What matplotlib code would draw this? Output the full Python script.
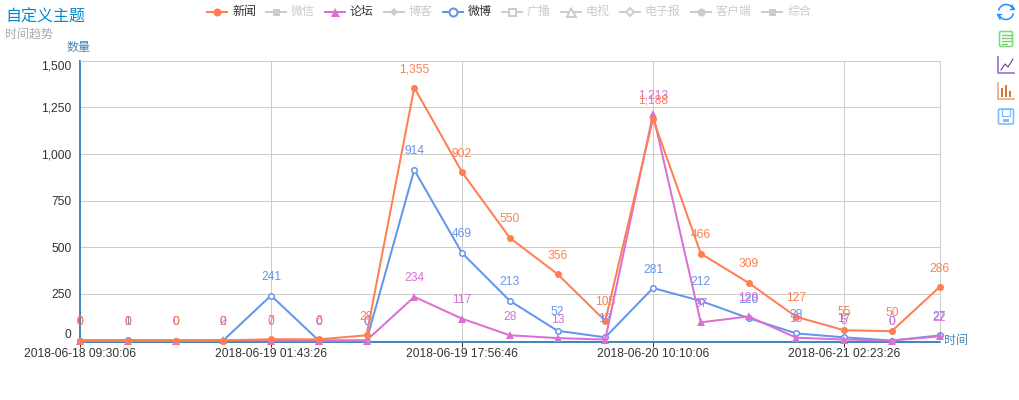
import numpy as np
import matplotlib
matplotlib.use("Agg")
import matplotlib.pyplot as plt
from matplotlib.patches import Rectangle, FancyBboxPatch, Arc

plt.rcParams["font.family"] = ["Liberation Sans", "Noto Sans CJK SC", "DejaVu Sans"]

# data
times = ["2018-06-18 09:30:06", "", "", "", "2018-06-19 01:43:26", "", "", "",
         "2018-06-19 17:56:46", "", "", "", "2018-06-20 10:10:06", "", "", "",
         "2018-06-21 02:23:26", "", ""]
news = [0, 0, 0, 0, 7, 6, 28, 1355, 902, 550, 356, 105, 1188, 466, 309, 127, 55, 50, 286]
forum = [0, 0, 0, 2, 0, 0, 0, 234, 117, 28, 13, 5, 1213, 97, 129, 15, 5, 0, 22]
blog = [0, 1, 0, 0, 241, 0, 0, 914, 469, 213, 52, 17, 281, 212, 120, 38, 17, 0, 27]
y_ticks = [0, 250, 500, 750, 1000, 1250, 1500]

legend_names = ["新闻", "微信", "论坛", "博客", "微博", "广播", "电视", "电子报", "客户端", "综合"]
legend_x = [207, 266, 325, 384, 443, 502, 561, 620, 691, 762]
legend_markers = ["o", "s", "^", "D", "o", "s", "^", "D", "o", "s"]
legend_on = {"新闻": "#ff7f50", "论坛": "#da70d6", "微博": "#6495ed"}

W, H = 1019, 400
PX = 72 / 100  # px to pt
AXIS = "#4488bb"
GRID = "#cccccc"

fig = plt.figure(figsize=(W / 100, H / 100), dpi=100)
ax = fig.add_axes([80 / W, (H - 340.5) / H, 859.5 / W, 280 / H])
# has to come before the ticks are set, it resets them
ax.spines["bottom"].set_position(("outward", 1))
x = np.arange(len(news))

ax.plot(x, blog, color="#6495ed", lw=2 * PX, marker="o", ms=5.5 * PX, mfc="white", mew=1.5 * PX, zorder=3, clip_on=False)
ax.plot(x, forum, color="#da70d6", lw=2 * PX, marker="^", ms=8 * PX, mew=0, zorder=4, clip_on=False)
ax.plot(x, news, color="#ff7f50", lw=2 * PX, marker="o", ms=7 * PX, mew=0, zorder=5, clip_on=False)

for vals, col in [(blog, "#6495ed"), (forum, "#da70d6"), (news, "#ff7f50")]:
    for i, v in zip(x, vals):
        ax.annotate(f"{v:,}", (i, v), xytext=(0, 9), textcoords="offset points", ha="center",
                    va="bottom", fontsize=12 * PX, color=col, zorder=7, annotation_clip=False)

ax.set_xlim(0, len(news) - 1)
ax.set_ylim(0, 1500)
tick_pos = [i for i, t in enumerate(times) if t]
ax.set_xticks(tick_pos)
ax.set_xticklabels([times[i] for i in tick_pos], fontsize=12 * PX, color="#333333")
ax.set_yticks(y_ticks)
ax.set_yticklabels([f"{v:,}" for v in y_ticks], fontsize=12 * PX, color="#333333")
ax.get_yticklabels()[0].set_va("bottom")
ax.get_yticklabels()[-1].set_va("top")
ax.tick_params(axis="x", length=5 * PX, width=PX, color="#333333", pad=1)
ax.tick_params(axis="y", length=0, pad=6)
ax.grid(True, color=GRID, lw=PX, zorder=0)
ax.set_axisbelow(True)
for s in ["top", "right"]:
    ax.spines[s].set_color(GRID)
    ax.spines[s].set_linewidth(PX)
for s in ["left", "bottom"]:
    ax.spines[s].set_color(AXIS)
    ax.spines[s].set_linewidth(2 * PX)
    ax.spines[s].set_zorder(2)

# overlay in pixel coordinates for title, legend, toolbox
ov = fig.add_axes([0, 0, 1, 1], zorder=10)
ov.set_xlim(0, W)
ov.set_ylim(H, 0)
ov.axis("off")
ov.patch.set_alpha(0)

ov.text(5, 17, "自定义主题", fontsize=16 * PX, color="#008acd", va="center", ha="left")
ov.text(5, 35, "时间趋势", fontsize=12 * PX, color="#aaaaaa", va="center", ha="left")
ov.text(67, 48, "数量", fontsize=12 * PX, color=AXIS, va="center", ha="left")
ov.text(944, 341, "时间", fontsize=12 * PX, color=AXIS, va="center", ha="left")

for name, lx, m in zip(legend_names, legend_x, legend_markers):
    col = legend_on.get(name, GRID)
    txt = "#333333" if name in legend_on else GRID
    ov.plot([lx, lx + 20], [11.5, 11.5], color=col, lw=2 * PX)
    hollow = name in ["微博", "广播", "电视", "电子报"]
    size = {"o": 8, "s": 7, "^": 9, "D": 5.5}[m] * PX
    ov.plot([lx + 10], [11.5], marker=m, ms=size, color=col, mfc="white" if hollow else col,
            mew=2 * PX if hollow else 0)
    ov.text(lx + 25, 11.5, name, fontsize=12 * PX, color=txt, va="center", ha="left")

# toolbox icons
blue = "#1e90ff"
ov.add_patch(Arc((1006, 12), 15, 15, theta1=190, theta2=340, color=blue, lw=1.1))
ov.add_patch(Arc((1006, 12), 15, 15, theta1=10, theta2=160, color=blue, lw=1.1))
ov.plot([1012, 1014.5, 1010.5], [5, 9.5, 9.5], color=blue, lw=1)
ov.plot([1000, 997.5, 1001.5], [19, 14.5, 14.5], color=blue, lw=1)

ov.add_patch(FancyBboxPatch((999.5, 31.5), 13, 15, boxstyle="round,pad=0,rounding_size=1.5",
                            fc="none", ec="#7fdc7f", lw=1.2))
for ly, lx2 in zip([35, 38, 41, 44], [1011, 1011, 1011, 1007]):
    ov.plot([1002, lx2], [ly, ly], color="#7fc97f", lw=1)

purple = "#9f6fc4"
ov.plot([998, 998, 1014], [57, 73, 73], color=purple, lw=1.2)
ov.plot([1001, 1005, 1008, 1013], [70, 64, 67, 59], color="#6a3d9a", lw=0.8)

orange = "#e8a87c"
ov.plot([998, 998, 1014], [83, 98.5, 98.5], color=orange, lw=1.2)
for bx, bh in zip([1001, 1005, 1009], [9, 12, 6]):
    ov.add_patch(Rectangle((bx, 97 - bh), 2.5, bh, fc="#d2773a", ec="none"))

save = "#7ebcff"
ov.add_patch(FancyBboxPatch((998.5, 109), 15, 15, boxstyle="round,pad=0,rounding_size=1.5",
                            fc="none", ec=save, lw=1.2))
ov.add_patch(Rectangle((1002, 109), 8, 7, fc="none", ec=save, lw=0.9))
ov.add_patch(Rectangle((1003, 119), 6, 3, fc=save, ec="none"))

fig.savefig("out.png", dpi=100)
